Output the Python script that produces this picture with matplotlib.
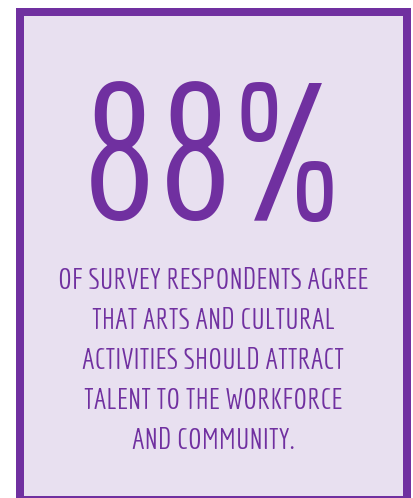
import matplotlib
matplotlib.use('Agg')
import matplotlib.pyplot as plt
from matplotlib.patches import Rectangle
from matplotlib.textpath import TextPath
from matplotlib.font_manager import FontProperties

# values
pct = 88
caption_lines = [
    'OF SURVEY RESPONDENTS AGREE',
    'THAT ARTS AND CULTURAL',
    'ACTIVITIES SHOULD ATTRACT',
    'TALENT TO THE WORKFORCE',
    'AND COMMUNITY.',
]

purple = '#7030A0'
lavender = '#E8E0F0'
fam = ['Economica', 'DejaVu Sans']
W, H = 414, 498

def ink(s, fam):
    # glyph bounds at size 100
    p = TextPath((0, 0), s, size=100, prop=FontProperties(family=fam[0]))
    return p.get_extents()

fig = plt.figure(figsize=(W / 100, H / 100), dpi=100)
ax = fig.add_axes([0, 0, 1, 1])
ax.set_xlim(0, W)
ax.set_ylim(H, 0)
ax.axis('off')

# frame (outer edge 16..411, 8..504, 8px border)
bw = 8
ax.add_patch(Rectangle((16 + bw / 2, 8 + bw / 2), 395 - bw, 496 - bw,
                       facecolor=lavender, edgecolor=purple, lw=bw * 72 / 100))

# big number, a bit shorter than ref so the width stays close
big = '%d%%' % pct
e = ink(big, fam)
hpx = 140
fs = hpx / (e.height / 100 * 100 / 72)
scale = fs / 100 * 100 / 72
cx, cy = 212.5, 151
base = cy + hpx / 2 + e.y0 * scale
ax.text(cx - (e.x0 + e.x1) / 2 * scale, base, big, fontsize=fs, family=fam,
        color=purple, ha='left', va='baseline')

# caption, cap height ~21 px
e = ink('H', fam)
cfs = 21 / (e.height / 100 * 100 / 72)
for i, line in enumerate(caption_lines):
    ax.text(213.5, 289 + 40 * i, line, fontsize=cfs, family=fam, color=purple,
            ha='center', va='baseline')

fig.savefig('out.png', dpi=100)
